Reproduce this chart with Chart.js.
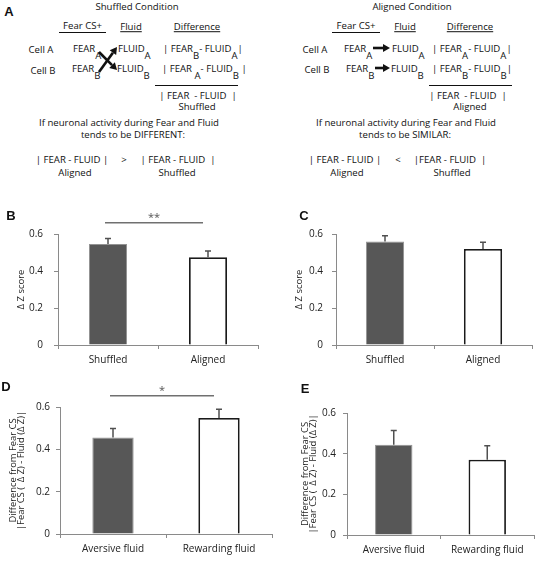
<!DOCTYPE html>
<html>
<head>
<meta charset="utf-8">
<script src="https://cdn.jsdelivr.net/npm/chart.js@4.4.1/dist/chart.umd.min.js"></script>
<style>
body{margin:0;background:#fff;}
#fig{position:relative;width:537px;height:562px;overflow:hidden;font-family:'Open Sans',sans-serif;color:#111;}
.t{position:absolute;white-space:pre;font-size:9.6px;line-height:1;}
.c{transform:translate(-50%,-50%);}
.l{transform:translateY(-50%);}
.t sub{font-size:9.6px;vertical-align:-7px;line-height:0;}
.ul{text-decoration:underline;}
.hr{position:absolute;height:0;border-top:1.3px solid #111;}
.pl{position:absolute;font-family:'Liberation Sans',Arial,sans-serif;font-weight:bold;font-size:13px;line-height:1;transform:translate(-50%,-50%);}
canvas{position:absolute;}
svg{position:absolute;left:0;top:0;}
</style>
</head>
<body>
<div id="fig">
  <!-- panel A, left half -->
  <div class="pl" style="left:9px;top:11px">A</div>
  <div class="t c" style="left:137px;top:7px">Shuffled Condition</div>
  <div class="t c" style="left:59px;top:21px;width:47px;text-align:center;transform:none;border-bottom:1px solid #111;padding-bottom:1px">Fear CS+</div>
  <div class="t c ul" style="left:131px;top:27px">Fluid</div>
  <div class="t c ul" style="left:197px;top:27px">Difference</div>
  <div class="t c" style="left:41px;top:50px">Cell A</div>
  <div class="t c" style="left:43px;top:71px">Cell B</div>
  <div class="t l" style="left:73px;top:50px">FEAR<sub>A</sub></div>
  <div class="t l" style="left:72px;top:70px">FEAR<sub>B</sub></div>
  <div class="t l" style="left:118px;top:50px">FLUID<sub>A</sub></div>
  <div class="t l" style="left:117px;top:70px">FLUID<sub>B</sub></div>
  <div class="t l" style="left:163px;top:50px">| FEAR<sub>B</sub>- FLUID<sub>A</sub>|</div>
  <div class="t l" style="left:162px;top:70px">| FEAR <sub>A</sub>- FLUID<sub>B</sub> |</div>
  <div class="hr" style="left:155px;top:85px;width:83px"></div>
  <div class="t c" style="left:198px;top:96px">| FEAR  - FLUID  |</div>
  <div class="t c" style="left:197px;top:107px">Shuffled</div>
  <div class="t c" style="left:129px;top:123px">If neuronal activity during Fear and Fluid</div>
  <div class="t c" style="left:133px;top:135px">tends to be DIFFERENT:</div>
  <div class="t c" style="left:72px;top:160px">| FEAR - FLUID |</div>
  <div class="t c" style="left:124px;top:160px">&gt;</div>
  <div class="t c" style="left:178px;top:160px">| FEAR - FLUID  |</div>
  <div class="t c" style="left:75px;top:173px">Aligned</div>
  <div class="t c" style="left:177px;top:173px">Shuffled</div>

  <!-- panel A, right half -->
  <div class="t c" style="left:412px;top:7px">Aligned Condition</div>
  <div class="t c" style="left:332px;top:21px;width:48px;text-align:center;transform:none;border-bottom:1px solid #111;padding-bottom:1px">Fear CS+</div>
  <div class="t c ul" style="left:405px;top:27px">Fluid</div>
  <div class="t c ul" style="left:470px;top:27px">Difference</div>
  <div class="t c" style="left:315px;top:50px">Cell A</div>
  <div class="t c" style="left:317px;top:70px">Cell B</div>
  <div class="t l" style="left:344px;top:50px">FEAR<sub>A</sub></div>
  <div class="t l" style="left:346px;top:70px">FEAR<sub>B</sub></div>
  <div class="t l" style="left:392px;top:50px">FLUID<sub>A</sub></div>
  <div class="t l" style="left:391px;top:70px">FLUID<sub>B</sub></div>
  <div class="t l" style="left:432px;top:50px">| FEAR<sub>A</sub>- FLUID<sub>A</sub>|</div>
  <div class="t l" style="left:432px;top:70px">| FEAR<sub>B</sub>- FLUID<sub>B</sub>|</div>
  <div class="hr" style="left:429px;top:85px;width:83px"></div>
  <div class="t c" style="left:468px;top:96px">| FEAR  - FLUID  |</div>
  <div class="t c" style="left:470px;top:107px">Aligned</div>
  <div class="t c" style="left:406px;top:123px">If neuronal activity during Fear and Fluid</div>
  <div class="t c" style="left:405px;top:135px">tends to be SIMILAR:</div>
  <div class="t c" style="left:345px;top:160px">| FEAR - FLUID |</div>
  <div class="t c" style="left:398px;top:160px">&lt;</div>
  <div class="t c" style="left:450px;top:160px">|FEAR - FLUID  |</div>
  <div class="t c" style="left:347px;top:173px">Aligned</div>
  <div class="t c" style="left:452px;top:173px">Shuffled</div>

  <svg id="arrows" width="537" height="190"></svg>

  <canvas id="chartB" width="268" height="180" style="left:0;top:200px"></canvas>
  <canvas id="chartC" width="267" height="180" style="left:270px;top:200px"></canvas>
  <canvas id="chartD" width="275" height="182" style="left:0;top:380px"></canvas>
  <canvas id="chartE" width="267" height="182" style="left:270px;top:380px"></canvas>

  <div class="pl" style="left:11px;top:215px">B</div>
  <div class="pl" style="left:304px;top:215px">C</div>
  <div class="pl" style="left:6px;top:386px">D</div>
  <div class="pl" style="left:305px;top:388px">E</div>
</div>

<script>
// values
var catsBC=['Shuffled','Aligned'];
var catsDE=['Aversive fluid','Rewarding fluid'];
var valsB=[0.546,0.474];
var errB=[0.030,0.034];
var valsC=[0.560,0.519];
var errC=[0.031,0.036];
var valsD=[0.456,0.548];
var errD=[0.043,0.041];
var valsE=[0.444,0.370];
var errE=[0.070,0.069];
var yTicks=[0,0.2,0.4,0.6];

var FONT="'Open Sans', sans-serif";

// arrows of panel A
var drawArrow=function(svg,x1,y1,x2,y2){
  var dx=x2-x1,dy=y2-y1,len=Math.sqrt(dx*dx+dy*dy);
  var ux=dx/len,uy=dy/len,hl=7,hw=4;
  var bx=x2-ux*hl,by=y2-uy*hl;
  var ns='http://www.w3.org/2000/svg';
  var ln=document.createElementNS(ns,'line');
  ln.setAttribute('x1',x1);ln.setAttribute('y1',y1);
  ln.setAttribute('x2',bx);ln.setAttribute('y2',by);
  ln.setAttribute('stroke','#111');ln.setAttribute('stroke-width','2.6');
  svg.appendChild(ln);
  var p=document.createElementNS(ns,'polygon');
  p.setAttribute('points',[x2,y2,bx-uy*hw,by+ux*hw,bx+uy*hw,by-ux*hw].join(','));
  p.setAttribute('fill','#111');
  svg.appendChild(p);
};
var svg=document.getElementById('arrows');
drawArrow(svg,99,72,117,47);
drawArrow(svg,99,52,117,70);
drawArrow(svg,373,48,390,48);
drawArrow(svg,375,68,390,68);

// error bars (upper half only) and significance bracket
var errorBars={
  id:'errorBars',
  afterDatasetsDraw:function(chart,args,opts){
    var ctx=chart.ctx,x=chart.scales.x,y=chart.scales.y;
    var ds=chart.data.datasets[0];
    ctx.save();
    ctx.strokeStyle='#505050';
    ctx.lineWidth=1.5;
    chart.getDatasetMeta(0).data.forEach(function(bar,i){
      var yb=y.getPixelForValue(ds.data[i]);
      var yt=y.getPixelForValue(ds.data[i]+ds.errs[i]);
      ctx.beginPath();
      ctx.moveTo(bar.x,yb);ctx.lineTo(bar.x,yt);
      ctx.moveTo(bar.x-3,yt);ctx.lineTo(bar.x+3,yt);
      ctx.stroke();
    });
    if(opts.sig){
      var ys=y.getPixelForValue(opts.sig.y);
      var xa=x.getPixelForValue(0)-3,xb=x.getPixelForValue(1)-5;
      ctx.strokeStyle='#707070';
      ctx.lineWidth=1.4;
      ctx.beginPath();ctx.moveTo(xa,ys);ctx.lineTo(xb,ys);ctx.stroke();
      ctx.fillStyle='#555';
      ctx.font='11px '+FONT;
      ctx.textAlign='center';
      ctx.textBaseline='middle';
      ctx.fillText(opts.sig.text,(xa+xb)/2,ys-5);
    }
    ctx.restore();
  }
};

var drawChart=function(eleid,cats,vals,errs,o){
  var ctx=document.getElementById(eleid).getContext('2d');
  return new Chart(ctx,{
    type:'bar',
    data:{
      labels:cats,
      datasets:[{
        data:vals,
        errs:errs,
        backgroundColor:['#575757','#ffffff'],
        borderColor:['#939393','#1a1a1a'],
        borderWidth:[1,1.8],
        barPercentage:1,
        categoryPercentage:o.bar
      }]
    },
    options:{
      responsive:false,
      animation:false,
      devicePixelRatio:1,
      layout:{padding:{left:0,right:o.padR,top:o.padT,bottom:0}},
      plugins:{
        legend:{display:false},
        tooltip:{enabled:false},
        errorBars:{sig:o.sig}
      },
      scales:{
        x:{
          offset:true,
          grid:{drawOnChartArea:false,offset:true,tickLength:4,color:'#8a8a8a'},
          border:{color:'#8a8a8a'},
          ticks:{font:{family:FONT,size:10},color:'#222',padding:5},
          afterFit:function(s){s.height=o.xH;}
        },
        y:{
          min:0,max:0.6,
          afterBuildTicks:function(s){s.ticks=yTicks.map(function(v){return {value:v};});},
          grid:{drawOnChartArea:false,tickLength:4,color:'#8a8a8a'},
          border:{color:'#8a8a8a'},
          ticks:{font:{family:FONT,size:10},color:'#222',padding:o.tickPad},
          title:{display:true,text:o.title,color:'#222',
            font:{family:FONT,size:o.titleSize,lineHeight:o.titleLH},
            padding:{top:o.titlePad,bottom:0}},
          afterFit:function(s){s.width=o.yW;}
        }
      }
    },
    plugins:[errorBars]
  });
};

var titleDE=['Difference from Fear CS','|Fear CS (  \u0394 Z) - Fluid (\u0394 Z)|'];

drawChart('chartB',catsBC,valsB,errB,{bar:0.38,padR:10,padT:34,xH:35,yW:58,tickPad:11,
  title:'\u0394 Z score',titleSize:9.5,titleLH:1.2,titlePad:16,sig:{y:0.661,text:'**'}});
drawChart('chartC',catsBC,valsC,errC,{bar:0.39,padR:5,padT:34,xH:35,yW:66,tickPad:9,
  title:'\u0394 Z score',titleSize:9.5,titleLH:1.2,titlePad:24,sig:null});
drawChart('chartD',catsDE,valsD,errD,{bar:0.39,padR:3,padT:27,xH:28,yW:60,tickPad:6,
  title:titleDE,titleSize:9.4,titleLH:0.85,titlePad:9,sig:{y:0.653,text:'*'}});
drawChart('chartE',catsDE,valsE,errE,{bar:0.40,padR:3,padT:33,xH:27,yW:77,tickPad:7,
  title:titleDE,titleSize:9.4,titleLH:0.85,titlePad:31,sig:null});
</script>
</body>
</html>
